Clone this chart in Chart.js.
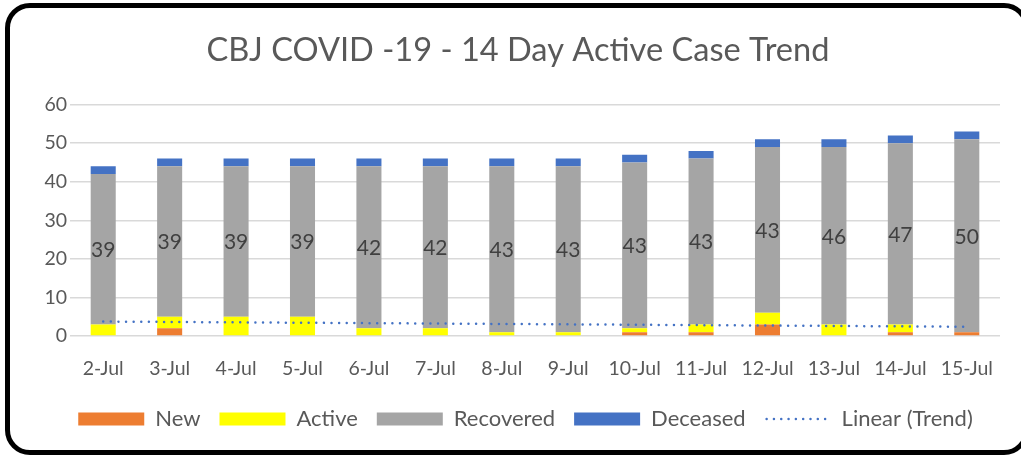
<!DOCTYPE html>
<html><head><meta charset="utf-8">
<script src="https://cdn.jsdelivr.net/npm/chart.js@4.4.0/dist/chart.umd.min.js"></script>
<style>
html,body{margin:0;padding:0;background:#fff;}
#wrap{position:relative;width:1021px;height:455px;overflow:hidden;background:#fff;}
#frame{position:absolute;left:5px;top:3px;width:1024px;height:452px;border:5px solid #000;border-radius:25px;box-sizing:border-box;pointer-events:none;}
#c{position:absolute;left:0;top:0;}
</style></head><body>
<div id="wrap"><canvas id="c" width="1021" height="455"></canvas><div id="frame"></div></div>
<script>
const categories = ['2-Jul','3-Jul','4-Jul','5-Jul','6-Jul','7-Jul','8-Jul','9-Jul','10-Jul','11-Jul','12-Jul','13-Jul','14-Jul','15-Jul'];
const newCases  = [0, 2, 0, 0, 0, 0, 0, 0, 1, 1, 3, 0, 1, 1];
const active    = [3, 3, 5, 5, 2, 2, 1, 1, 1, 2, 3, 3, 2, 0];
const recovered = [39, 39, 39, 39, 42, 42, 43, 43, 43, 43, 43, 46, 47, 50];
const deceased  = [2, 2, 2, 2, 2, 2, 2, 2, 2, 2, 2, 2, 2, 2];
const trend     = [3.75, null, null, null, null, null, null, null, null, null, null, null, null, 2.4];
const yTickMin = 0, yTickMax = 60, yTickStep = 10;

const FONT = 'Lato';
const TXT = '#595959';

const recoveredLabels = {
  id: 'recoveredLabels',
  afterDatasetsDraw(chart) {
    const meta = chart.getDatasetMeta(2);
    const ctx = chart.ctx;
    ctx.save();
    ctx.font = '21px ' + FONT;
    ctx.fillStyle = '#404040';
    ctx.textAlign = 'center';
    ctx.textBaseline = 'middle';
    meta.data.forEach((el, i) => {
      const p = el.getProps(['x', 'y', 'base'], true);
      ctx.fillText(String(recovered[i]), p.x, (p.y + p.base) / 2 + 1);
    });
    ctx.restore();
  }
};

const boxShift = {
  id: 'boxShift',
  afterLayout(chart) {
    const lg = chart.legend;
    if (lg) { lg.left += 25.5; lg.right += 25.5; }
    const tb = chart.titleBlock;
    if (tb) { tb.left += 18; tb.right += 18; }
  }
};

const trendLegendLine = {
  id: 'trendLegendLine',
  afterDraw(chart) {
    const lg = chart.legend;
    if (!lg || !lg.legendHitBoxes) return;
    const idx = lg.legendItems.findIndex(it => it.datasetIndex === 4);
    const hb = lg.legendHitBoxes[idx];
    if (!hb) return;
    const bw = chart.options.plugins.legend.labels.boxWidth;
    const ctx = chart.ctx;
    ctx.save();
    ctx.strokeStyle = '#4472C4';
    ctx.lineWidth = 2.5;
    ctx.lineCap = 'round';
    ctx.setLineDash([0.01, 7.3]);
    const y = hb.top + hb.height / 2;
    ctx.beginPath();
    ctx.moveTo(hb.left + 2, y);
    ctx.lineTo(hb.left + bw - 2, y);
    ctx.stroke();
    ctx.restore();
  }
};

new Chart(document.getElementById('c'), {
  data: {
    labels: categories,
    datasets: [
      { type: 'bar', label: 'New', data: newCases, backgroundColor: '#ED7D31', order: 2 },
      { type: 'bar', label: 'Active', data: active, backgroundColor: '#FFFF00', order: 2 },
      { type: 'bar', label: 'Recovered', data: recovered, backgroundColor: '#A5A5A5', order: 2 },
      { type: 'bar', label: 'Deceased', data: deceased, backgroundColor: '#4472C4', order: 2 },
      { type: 'line', label: 'Linear (Trend)', data: trend, spanGaps: true, borderColor: '#4472C4',
        borderWidth: 2.5, borderDash: [0.01, 7.6], borderCapStyle: 'round', pointRadius: 0, order: 1, stack: 'trend' }
    ]
  },
  options: {
    responsive: false,
    animation: false,
    devicePixelRatio: 1,
    layout: { padding: { left: 0, right: 21, top: 0, bottom: 15 } },
    datasets: { bar: { categoryPercentage: 1, barPercentage: 0.377 } },
    scales: {
      x: {
        stacked: true,
        grid: { display: false, tickLength: 13 },
        border: { display: false },
        ticks: { color: TXT, font: { family: FONT, size: 19.5, lineHeight: 1.2 }, padding: 8.3, maxRotation: 0, autoSkip: false }
      },
      y: {
        stacked: true,
        min: yTickMin, max: yTickMax,
        grid: { color: '#D9D9D9', lineWidth: 1.5, drawTicks: false },
        border: { display: false },
        ticks: { stepSize: yTickStep, color: TXT, font: { family: FONT, size: 19.5 }, padding: 3 },
        afterFit(s) { s.width = 70; }
      }
    },
    plugins: {
      title: {
        display: true,
        text: 'CBJ COVID -19 - 14 Day Active Case Trend',
        color: TXT,
        font: { family: FONT, size: 32.6, weight: 'normal' },
        padding: { top: 30.5, bottom: 35 }
      },
      legend: {
        position: 'bottom',
        labels: {
          color: TXT,
          font: { family: FONT, size: 22 },
          boxWidth: 66, boxHeight: 13,
          padding: 19,
          sort: (a, b) => a.datasetIndex - b.datasetIndex,
          generateLabels(chart) {
            const items = Chart.defaults.plugins.legend.labels.generateLabels(chart);
            items.forEach(it => {
              it.lineWidth = 0; it.strokeStyle = 'rgba(0,0,0,0)';
              if (it.datasetIndex === 4) { it.fillStyle = 'rgba(0,0,0,0)'; it.lineDash = []; }
            });
            return items;
          }
        }
      },
      tooltip: { enabled: false }
    }
  },
  plugins: [recoveredLabels, boxShift, trendLegendLine]
});
</script>
</body></html>
